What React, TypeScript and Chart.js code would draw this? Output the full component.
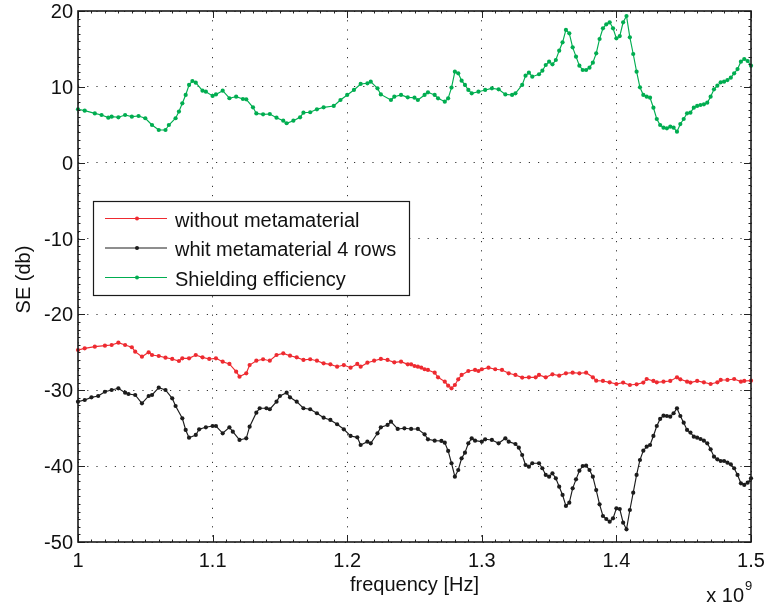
import React, { useEffect, useRef } from 'react';
import { Chart, registerables } from 'chart.js';

Chart.register(...registerables);

const xTicks = [1, 1.1, 1.2, 1.3, 1.4, 1.5];
const yTicks = [20, 10, 0, -10, -20, -30, -40, -50];
const seriesNames = ['without metamaterial', 'whit metamaterial 4 rows', 'Shielding efficiency'];
const seriesColors = ['#ee2a30', '#1c1c1c', '#00ad50'];
const xTitle = 'frequency [Hz]';
const yTitle = 'SE (db)';

const redFreq = [1.0, 1.005, 1.0125, 1.02, 1.025, 1.03, 1.035, 1.04, 1.0425, 1.0475, 1.0525, 1.055, 1.06, 1.065, 1.07, 1.075, 1.0775, 1.0825, 1.0875, 1.0925, 1.0975, 1.1025, 1.1075, 1.1125, 1.1175, 1.12, 1.125, 1.1275, 1.1325, 1.1375, 1.1425, 1.1475, 1.1525, 1.1575, 1.1625, 1.1675, 1.1725, 1.1775, 1.1825, 1.1875, 1.1925, 1.1975, 1.2025, 1.2075, 1.21, 1.215, 1.22, 1.225, 1.23, 1.235, 1.24, 1.245, 1.2475, 1.25, 1.2525, 1.255, 1.2575, 1.26, 1.265, 1.2675, 1.2725, 1.275, 1.2775, 1.28, 1.2825, 1.285, 1.29, 1.295, 1.2975, 1.3, 1.305, 1.31, 1.315, 1.32, 1.325, 1.33, 1.335, 1.34, 1.3425, 1.3475, 1.3525, 1.3575, 1.3625, 1.3675, 1.3725, 1.3775, 1.3825, 1.385, 1.39, 1.395, 1.4, 1.405, 1.41, 1.415, 1.42, 1.4225, 1.4275, 1.43, 1.435, 1.44, 1.445, 1.4475, 1.4525, 1.455, 1.46, 1.465, 1.47, 1.475, 1.4775, 1.4825, 1.4875, 1.4925, 1.495, 1.5];
const redSE = [-24.69, -24.47, -24.25, -24.12, -24.03, -23.73, -24.03, -24.33, -24.91, -25.57, -24.99, -25.35, -25.48, -25.7, -25.87, -26.14, -25.79, -25.79, -25.35, -25.66, -25.87, -25.79, -26.23, -26.53, -27.55, -28.2, -27.76, -26.67, -26.1, -25.91, -26.1, -25.35, -25.13, -25.44, -25.66, -26.0, -25.91, -26.1, -26.45, -26.58, -26.89, -26.67, -27.02, -26.53, -26.89, -26.36, -26.1, -25.87, -26.0, -26.31, -26.23, -26.58, -26.58, -26.8, -26.89, -27.0, -27.23, -27.32, -27.68, -28.29, -28.86, -29.39, -29.74, -29.3, -28.55, -27.98, -27.46, -27.32, -27.46, -27.23, -27.02, -27.23, -27.32, -27.76, -27.98, -28.33, -28.29, -28.29, -27.98, -28.29, -27.89, -28.07, -27.76, -27.68, -27.76, -27.68, -28.29, -28.73, -28.77, -28.95, -29.17, -28.99, -29.3, -29.21, -28.99, -28.51, -28.77, -28.95, -28.86, -28.77, -28.29, -28.55, -28.86, -28.99, -28.77, -28.95, -29.17, -28.95, -28.64, -28.64, -28.51, -28.86, -28.77, -28.73];

const blackFreq = [1.0, 1.005, 1.01, 1.015, 1.02, 1.025, 1.03, 1.035, 1.0375, 1.0425, 1.0475, 1.0525, 1.055, 1.06, 1.065, 1.07, 1.0725, 1.0775, 1.08, 1.0825, 1.0875, 1.09, 1.095, 1.1, 1.1025, 1.1075, 1.1125, 1.115, 1.12, 1.125, 1.1275, 1.1325, 1.135, 1.14, 1.1425, 1.1475, 1.15, 1.155, 1.1575, 1.1625, 1.1675, 1.1725, 1.1775, 1.1825, 1.1875, 1.1925, 1.1975, 1.2025, 1.2075, 1.21, 1.215, 1.2175, 1.2225, 1.225, 1.23, 1.2325, 1.2375, 1.2425, 1.2475, 1.2525, 1.2575, 1.26, 1.265, 1.27, 1.2725, 1.275, 1.2775, 1.28, 1.2825, 1.285, 1.2875, 1.29, 1.2925, 1.295, 1.3, 1.3025, 1.3075, 1.3125, 1.3175, 1.32, 1.325, 1.3275, 1.33, 1.3325, 1.335, 1.3375, 1.3425, 1.345, 1.3475, 1.35, 1.3525, 1.355, 1.3575, 1.36, 1.3625, 1.365, 1.3675, 1.37, 1.3725, 1.375, 1.3775, 1.38, 1.3825, 1.385, 1.3875, 1.39, 1.3925, 1.395, 1.3975, 1.4, 1.4025, 1.405, 1.4075, 1.41, 1.4125, 1.415, 1.4175, 1.42, 1.4225, 1.425, 1.4275, 1.43, 1.4325, 1.435, 1.4375, 1.44, 1.4425, 1.445, 1.4475, 1.45, 1.4525, 1.455, 1.4575, 1.46, 1.4625, 1.465, 1.4675, 1.47, 1.4725, 1.475, 1.4775, 1.48, 1.4825, 1.485, 1.4875, 1.49, 1.4925, 1.495, 1.4975, 1.5];
const blackSE = [-31.5, -31.28, -30.93, -30.75, -30.19, -29.96, -29.74, -30.32, -30.49, -30.62, -31.72, -30.75, -30.62, -29.66, -29.96, -31.06, -32.07, -33.69, -35.23, -36.25, -35.89, -35.14, -34.88, -34.71, -34.71, -35.67, -34.88, -35.46, -36.55, -36.33, -34.8, -32.95, -32.37, -32.37, -32.5, -31.5, -30.75, -30.32, -30.93, -31.5, -32.37, -32.5, -33.03, -33.61, -33.91, -34.48, -35.14, -36.02, -36.2, -37.21, -36.77, -36.99, -35.67, -34.88, -34.57, -34.14, -35.1, -35.01, -35.1, -35.1, -35.8, -36.46, -36.64, -36.68, -36.9, -38.0, -39.62, -41.39, -40.51, -38.97, -38.22, -36.99, -36.33, -36.64, -36.77, -36.46, -36.55, -36.99, -36.33, -36.77, -37.08, -37.57, -38.53, -39.85, -40.07, -39.62, -39.62, -40.28, -41.16, -41.39, -40.95, -41.6, -42.71, -43.8, -45.25, -44.82, -42.92, -41.74, -40.6, -39.98, -39.94, -40.51, -41.39, -43.15, -45.03, -46.57, -46.97, -47.32, -46.88, -45.56, -45.65, -47.45, -48.33, -45.78, -43.5, -41.16, -39.19, -37.96, -37.43, -37.21, -36.02, -34.71, -33.78, -33.35, -33.39, -33.48, -33.03, -32.37, -33.39, -34.27, -35.23, -35.58, -36.11, -36.25, -36.42, -36.64, -36.99, -37.78, -38.75, -39.1, -39.32, -39.32, -39.54, -39.76, -40.28, -41.16, -42.26, -42.48, -42.18, -41.6];

const greenFreq = [1.0, 1.005, 1.0125, 1.0175, 1.0225, 1.025, 1.03, 1.035, 1.04, 1.045, 1.05, 1.055, 1.06, 1.065, 1.0675, 1.0725, 1.075, 1.0775, 1.08, 1.0825, 1.085, 1.0875, 1.0925, 1.095, 1.1, 1.1025, 1.1075, 1.1125, 1.1175, 1.1225, 1.125, 1.13, 1.1325, 1.1375, 1.1425, 1.1475, 1.1525, 1.155, 1.16, 1.165, 1.1675, 1.1725, 1.1775, 1.1825, 1.19, 1.195, 1.2, 1.205, 1.21, 1.215, 1.2175, 1.2225, 1.225, 1.2325, 1.235, 1.24, 1.245, 1.25, 1.2525, 1.2575, 1.26, 1.265, 1.2675, 1.2725, 1.275, 1.2775, 1.28, 1.2825, 1.285, 1.2875, 1.29, 1.2925, 1.2975, 1.3025, 1.3075, 1.3125, 1.3175, 1.3225, 1.325, 1.33, 1.3325, 1.335, 1.3375, 1.3425, 1.345, 1.3475, 1.35, 1.3525, 1.355, 1.3575, 1.36, 1.3625, 1.365, 1.3675, 1.37, 1.3725, 1.375, 1.3775, 1.38, 1.3825, 1.385, 1.3875, 1.39, 1.3925, 1.395, 1.3975, 1.4, 1.4025, 1.405, 1.4075, 1.41, 1.4125, 1.415, 1.4175, 1.42, 1.4225, 1.425, 1.4275, 1.43, 1.4325, 1.435, 1.4375, 1.44, 1.4425, 1.445, 1.4475, 1.45, 1.4525, 1.455, 1.4575, 1.46, 1.4625, 1.465, 1.4675, 1.47, 1.4725, 1.475, 1.4775, 1.48, 1.4825, 1.485, 1.4875, 1.49, 1.4925, 1.495, 1.4975, 1.5];
const greenSE = [7.04, 6.86, 6.5, 6.29, 5.94, 6.07, 5.99, 6.29, 6.07, 6.16, 5.86, 4.97, 4.31, 4.31, 4.97, 5.86, 6.74, 7.83, 8.93, 10.25, 10.77, 10.55, 9.5, 9.36, 8.8, 9.0, 9.5, 8.5, 8.7, 8.4, 8.36, 7.3, 6.5, 6.38, 6.42, 5.94, 5.54, 5.2, 5.54, 5.99, 6.6, 6.65, 7.04, 7.3, 7.48, 8.27, 8.93, 9.59, 10.38, 10.47, 10.68, 9.8, 9.0, 8.27, 8.7, 8.93, 8.62, 8.57, 8.27, 8.93, 9.28, 8.93, 8.49, 8.05, 8.49, 9.9, 12.0, 11.79, 10.81, 10.25, 9.59, 9.15, 9.36, 9.59, 9.8, 9.68, 9.0, 8.93, 9.15, 10.25, 11.47, 11.87, 11.34, 11.66, 12.13, 12.88, 13.32, 12.97, 13.54, 14.77, 15.87, 17.5, 17.06, 15.21, 13.98, 12.79, 12.22, 12.22, 12.53, 13.19, 14.42, 16.31, 17.72, 18.25, 18.51, 17.72, 16.4, 16.7, 18.51, 19.34, 16.53, 14.33, 12.0, 9.94, 8.93, 8.7, 8.57, 7.25, 5.76, 4.97, 4.62, 4.54, 4.75, 4.62, 4.09, 5.1, 5.76, 6.51, 6.6, 7.25, 7.48, 7.61, 7.7, 7.91, 8.7, 9.68, 10.16, 10.6, 10.68, 10.9, 11.21, 11.79, 12.35, 13.32, 13.67, 13.41, 12.79];

const FONT = '"Liberation Sans", Arial, Helvetica, sans-serif';

const toPoints = (fs: number[], vs: number[]) => fs.map((f, i) => ({ x: f, y: vs[i] }));

const matlabPlugin = {
  id: 'matlabDecor',
  afterDatasetsDraw(chart: any) {
    const { ctx, chartArea, scales } = chart;
    const { left, right, top, bottom } = chartArea;
    const xs = scales.x;
    const ys = scales.y;
    ctx.save();
    ctx.strokeStyle = '#222';
    ctx.lineWidth = 1;
    // minor ticks
    ctx.beginPath();
    for (let v = xs.min; v <= xs.max + 1e-9; v += 0.01) {
      const px = Math.round(xs.getPixelForValue(v)) + 0.5;
      ctx.moveTo(px, bottom); ctx.lineTo(px, bottom - 2.5);
      ctx.moveTo(px, top); ctx.lineTo(px, top + 2.5);
    }
    for (let v = ys.min; v <= ys.max + 1e-9; v += 1) {
      const py = Math.round(ys.getPixelForValue(v)) + 0.5;
      ctx.moveTo(left, py); ctx.lineTo(left + 2.5, py);
      ctx.moveTo(right, py); ctx.lineTo(right - 2.5, py);
    }
    ctx.stroke();
    // major ticks
    ctx.beginPath();
    for (const t of xTicks) {
      const px = Math.round(xs.getPixelForValue(t)) + 0.5;
      ctx.moveTo(px, bottom); ctx.lineTo(px, bottom - 7);
      ctx.moveTo(px, top); ctx.lineTo(px, top + 7);
    }
    for (const t of yTicks) {
      const py = Math.round(ys.getPixelForValue(t)) + 0.5;
      ctx.moveTo(left, py); ctx.lineTo(left + 7, py);
      ctx.moveTo(right, py); ctx.lineTo(right - 7, py);
    }
    ctx.stroke();
    // frame
    ctx.lineWidth = 1.6;
    ctx.strokeStyle = '#1a1a1a';
    ctx.strokeRect(left, top, right - left, bottom - top);

    // tick labels
    ctx.fillStyle = '#111';
    ctx.font = `20px ${FONT}`;
    ctx.textBaseline = 'alphabetic';
    ctx.textAlign = 'center';
    for (const t of xTicks) {
      ctx.fillText(String(t), xs.getPixelForValue(t), bottom + 25);
    }
    ctx.textAlign = 'right';
    for (const t of yTicks) {
      ctx.fillText(String(t), left - 5, ys.getPixelForValue(t) + 7);
    }

    // legend
    const lx = left + 15, ly = top + 190, lw = 316, lh = 94;
    ctx.fillStyle = '#fff';
    ctx.fillRect(lx, ly, lw, lh);
    ctx.lineWidth = 1.2;
    ctx.strokeStyle = '#1a1a1a';
    ctx.strokeRect(lx + 0.5, ly + 0.5, lw, lh);
    ctx.font = `20px ${FONT}`;
    ctx.textAlign = 'left';
    ctx.textBaseline = 'alphabetic';
    seriesNames.forEach((name, i) => {
      const rowY = ly + 17.5 + i * 29.5;
      ctx.strokeStyle = seriesColors[i];
      ctx.lineWidth = 1;
      ctx.beginPath();
      ctx.moveTo(lx + 12, rowY);
      ctx.lineTo(lx + 74, rowY);
      ctx.stroke();
      ctx.fillStyle = seriesColors[i];
      ctx.beginPath();
      ctx.arc(lx + 44, rowY, 2, 0, Math.PI * 2);
      ctx.fill();
      ctx.fillStyle = '#111';
      ctx.fillText(name, lx + 82, rowY + 8);
    });

    // axis titles
    ctx.fillStyle = '#111';
    ctx.font = `20px ${FONT}`;
    ctx.textAlign = 'center';
    ctx.fillText(xTitle, (left + right) / 2, bottom + 49);
    ctx.save();
    ctx.translate(30, (top + bottom) / 2 + 3);
    ctx.rotate(-Math.PI / 2);
    ctx.fillText(yTitle, 0, 0);
    ctx.restore();
    // exponent
    ctx.textAlign = 'right';
    ctx.fillText('x 10', right - 7, bottom + 60);
    ctx.font = `13px ${FONT}`;
    ctx.textAlign = 'left';
    ctx.fillText('9', right - 6, bottom + 48);
    ctx.restore();
  },
};

export default function App() {
  const ref = useRef<HTMLCanvasElement | null>(null);
  useEffect(() => {
    document.body.style.margin = '0';
    const canvas = ref.current;
    if (!canvas) return;
    const mk = (i: number, fs: number[], vs: number[]) => ({
      label: seriesNames[i],
      data: toPoints(fs, vs),
      borderColor: seriesColors[i],
      backgroundColor: seriesColors[i],
      pointBackgroundColor: seriesColors[i],
      pointBorderColor: seriesColors[i],
      borderWidth: 1.15,
      pointRadius: 2.1,
      pointBorderWidth: 0,
      tension: 0,
      clip: false as any,
    });
    const chart = new Chart(canvas, {
      type: 'line',
      data: {
        datasets: [mk(0, redFreq, redSE), mk(1, blackFreq, blackSE), mk(2, greenFreq, greenSE)],
      },
      options: {
        responsive: false,
        animation: false,
        events: [],
        layout: { padding: { top: 11, right: 14, left: 0, bottom: 0 } },
        plugins: { legend: { display: false }, tooltip: { enabled: false } },
        scales: {
          x: {
            type: 'linear',
            min: 1,
            max: 1.5,
            afterBuildTicks: (s: any) => { s.ticks = xTicks.map((v) => ({ value: v })); },
            afterFit: (s: any) => { s.height = 67; },
            ticks: { display: false },
            grid: { color: 'rgba(0,0,0,0.8)', lineWidth: 1, drawTicks: false },
            border: { display: false, dash: [1.2, 8] },
          },
          y: {
            min: -50,
            max: 20,
            afterBuildTicks: (s: any) => { s.ticks = yTicks.map((v) => ({ value: v })); },
            afterFit: (s: any) => { s.width = 78; },
            ticks: { display: false },
            grid: { color: 'rgba(0,0,0,0.8)', lineWidth: 1, drawTicks: false },
            border: { display: false, dash: [1.2, 8] },
          },
        },
      },
      plugins: [matlabPlugin],
    });
    return () => chart.destroy();
  }, []);
  return (
    <div style={{ width: 765, height: 609, background: '#fff' }}>
      <canvas ref={ref} width={765} height={609} style={{ display: 'block' }} />
    </div>
  );
}
